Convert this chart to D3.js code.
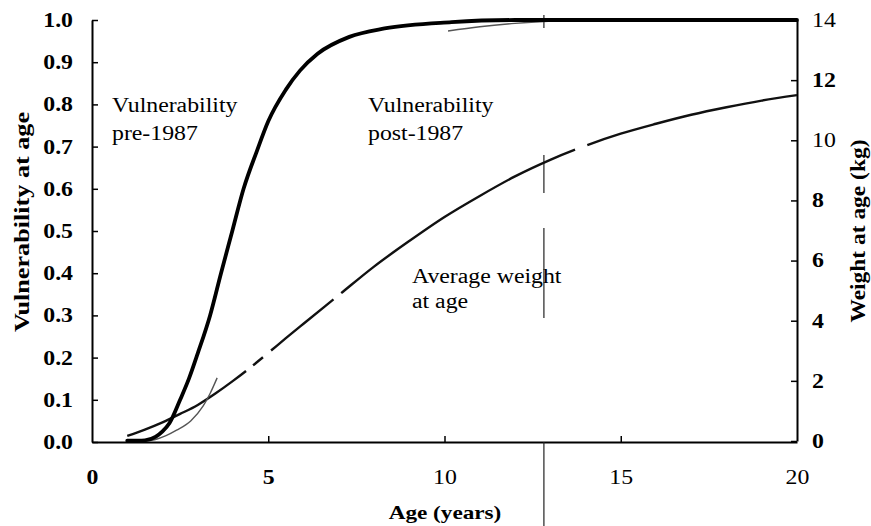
<!DOCTYPE html>
<html>
<head>
<meta charset="utf-8">
<script src="https://cdn.jsdelivr.net/npm/d3@7"></script>
<style>
  html, body { margin: 0; padding: 0; background: #fff; }
  svg { display: block; }
  text { font-family: "Liberation Serif", "Times New Roman", "DejaVu Serif", serif; fill: #000; }
</style>
</head>
<body>
<svg id="chart" width="871" height="526"></svg>
<script>
// ---------- data ----------
const preAges  = [1.0, 1.5, 1.8, 2.0, 2.2, 2.5, 2.75, 3.0, 3.35, 3.66, 3.98, 4.3, 4.68, 5.0, 5.5, 5.9, 6.4, 7.3, 8.3, 10.2, 12.0, 14.0, 20.0];
const preVuln  = [0.003, 0.004, 0.012, 0.025, 0.045, 0.10, 0.15, 0.21, 0.30, 0.40, 0.50, 0.60, 0.69, 0.76, 0.835, 0.88, 0.92, 0.96, 0.98, 0.995, 1.0, 1.0, 1.0];

// post-1987 curve: only the visible parts of the printed curve (null = not visible)
const postAges = [1.45, 1.8, 2.1, 2.4, 2.8, 3.15, 3.35, 3.55, 6.0, 10.1, 11.0, 12.0, 12.7, 14.0];
const postVuln = [0.002, 0.006, 0.015, 0.028, 0.05, 0.085, 0.115, 0.152, null, 0.974, 0.984, 0.992, 0.996, 1.0];

const weightAges = [1, 1.5, 2, 2.5, 3, 3.5, 4, 4.5, 5, 5.5, 6, 7, 8, 9, 10, 11, 12, 13, 14, 15, 16, 17, 18, 19, 20];
const weightKg   = [0.17, 0.38, 0.62, 0.9, 1.2, 1.58, 2.0, 2.45, 2.93, 3.42, 3.9, 4.85, 5.8, 6.65, 7.45, 8.15, 8.8, 9.35, 9.82, 10.22, 10.55, 10.85, 11.1, 11.32, 11.5];
// ages where the printed weight line breaks (print gaps)
const weightGaps = [[4.37, 4.57], [4.85, 5.08], [6.85, 7.07], [13.7, 14.05]];

const xTicks = [0, 5, 10, 15, 20];
const vTicks = [0, 0.1, 0.2, 0.3, 0.4, 0.5, 0.6, 0.7, 0.8, 0.9, 1.0];
const wTicks = [0, 2, 4, 6, 8, 10, 12, 14];
const xBoldTicks = [0, 5];
const wNormalTicks = [14, 10];

// scan fold line seen on the page: [age, vulnerability from, vulnerability to]
const foldSegments = [[12.82, 1.012, 0.981], [12.82, 0.68, 0.59], [12.82, 0.507, 0.294], [12.82, 0.0, -0.2]];

// ---------- layout ----------
const svg = d3.select("#chart");
const SX = 1.19; // horizontal stretch of the printed type

const x  = d3.scaleLinear().domain([0, 20]).range([92, 797]);
const yV = d3.scaleLinear().domain([0, 1]).range([442, 20]);
const yW = d3.scaleLinear().domain([0, 14]).range([441, 20]);

function stretchText(g) {
  g.selectAll("text").each(function () {
    const t = d3.select(this);
    const tx = +t.attr("x") || 0;
    t.attr("x", tx / SX).attr("transform", `scale(${SX},1)`);
  });
}

// axes
const axL = svg.append("g").attr("transform", `translate(${x(0)},0)`)
  .call(d3.axisLeft(yV).tickValues(vTicks).tickFormat(d3.format(".1f")).tickSizeInner(-6).tickSizeOuter(0).tickPadding(19));
const axR = svg.append("g").attr("transform", `translate(${x(20)},0)`)
  .call(d3.axisRight(yW).tickValues(wTicks).tickFormat(d3.format("d")).tickSizeInner(-6).tickSizeOuter(0).tickPadding(15));
const axB = svg.append("g").attr("transform", `translate(0,${yV(0)})`)
  .call(d3.axisBottom(x).tickValues(xTicks).tickFormat(d3.format("d")).tickSizeInner(-6).tickSizeOuter(0).tickPadding(28));

[axL, axR, axB].forEach(g => {
  g.attr("font-family", null);
  g.select(".domain").attr("stroke", "#000").attr("stroke-width", 2);
  g.selectAll(".tick line").attr("stroke", "#000").attr("stroke-width", 1.5);
  g.selectAll("text").attr("font-size", 20).attr("fill", "#000");
  stretchText(g);
});
axL.selectAll("text").attr("font-weight", "bold");
axR.selectAll("text").attr("font-weight", d => wNormalTicks.includes(d) ? "normal" : "bold");
axB.selectAll("text").attr("font-weight", d => xBoldTicks.includes(d) ? "bold" : "normal");
axB.selectAll(".tick").filter(d => d === 0 || d === 20).select("line").remove();

// fold line
svg.append("g").selectAll("line").data(foldSegments).join("line")
  .attr("x1", d => x(d[0])).attr("x2", d => x(d[0]))
  .attr("y1", d => yV(d[1])).attr("y2", d => yV(d[2]))
  .attr("stroke", "#222").attr("stroke-width", 1.2);

// weight curve (with the print breaks rendered as a dash pattern)
const wData = weightAges.map((a, i) => [a, weightKg[i]]);
const wPath = svg.append("path").datum(wData)
  .attr("fill", "none").attr("stroke", "#111").attr("stroke-width", 2.4)
  .attr("d", d3.line().x(d => x(d[0])).y(d => yW(d[1])).curve(d3.curveMonotoneX));
(function applyGaps() {
  const node = wPath.node();
  const total = node.getTotalLength();
  function lenAtX(px) {
    let lo = 0, hi = total;
    for (let k = 0; k < 40; k++) {
      const mid = (lo + hi) / 2;
      if (node.getPointAtLength(mid).x < px) lo = mid; else hi = mid;
    }
    return (lo + hi) / 2;
  }
  const dash = [];
  let pos = 0;
  weightGaps.forEach(([a0, a1]) => {
    const s = lenAtX(x(a0)), e = lenAtX(x(a1));
    dash.push(s - pos, e - s);
    pos = e;
  });
  dash.push(total - pos + 10, 0);
  wPath.attr("stroke-dasharray", dash.map(v => v.toFixed(2)).join(" "));
})();

// post-1987 vulnerability (thin)
const postData = postAges.map((a, i) => [a, postVuln[i]]);
svg.append("path").datum(postData)
  .attr("fill", "none").attr("stroke", "#555").attr("stroke-width", 1.4)
  .attr("d", d3.line().defined(d => d[1] !== null).x(d => x(d[0])).y(d => yV(d[1])).curve(d3.curveMonotoneX));

// pre-1987 vulnerability (thick)
const preData = preAges.map((a, i) => [a, preVuln[i]]);
svg.append("path").datum(preData)
  .attr("fill", "none").attr("stroke", "#000").attr("stroke-width", 3.8).attr("stroke-linecap", "round")
  .attr("d", d3.line().x(d => x(d[0])).y(d => yV(d[1])).curve(d3.curveMonotoneX));

// annotations
function label(xp, yp, str, size, weight) {
  svg.append("text").attr("transform", `translate(${xp},${yp}) scale(${SX},1)`)
    .attr("font-size", size).attr("font-weight", weight || "normal").text(str);
}
label(112, 112, "Vulnerability", 20);
label(112, 140, "pre-1987", 20);
label(368, 112, "Vulnerability", 20);
label(368, 140, "post-1987", 20);
label(412, 283, "Average weight", 20);
label(412, 308, "at age", 20);

// axis titles
svg.append("text").attr("transform", `translate(445,519) scale(${SX},1)`)
  .attr("text-anchor", "middle").attr("font-size", 19.5).attr("font-weight", "bold").text("Age (years)");
svg.append("text").attr("transform", `translate(29,222) rotate(-90)`)
  .attr("text-anchor", "middle").attr("font-size", 21).attr("font-weight", "bold")
  .attr("textLength", 220).attr("lengthAdjust", "spacingAndGlyphs").text("Vulnerability at age");
svg.append("text").attr("transform", `translate(865,231) rotate(-90)`)
  .attr("text-anchor", "middle").attr("font-size", 21).attr("font-weight", "bold")
  .attr("textLength", 183).attr("lengthAdjust", "spacingAndGlyphs").text("Weight at age (kg)");
</script>
</body>
</html>
